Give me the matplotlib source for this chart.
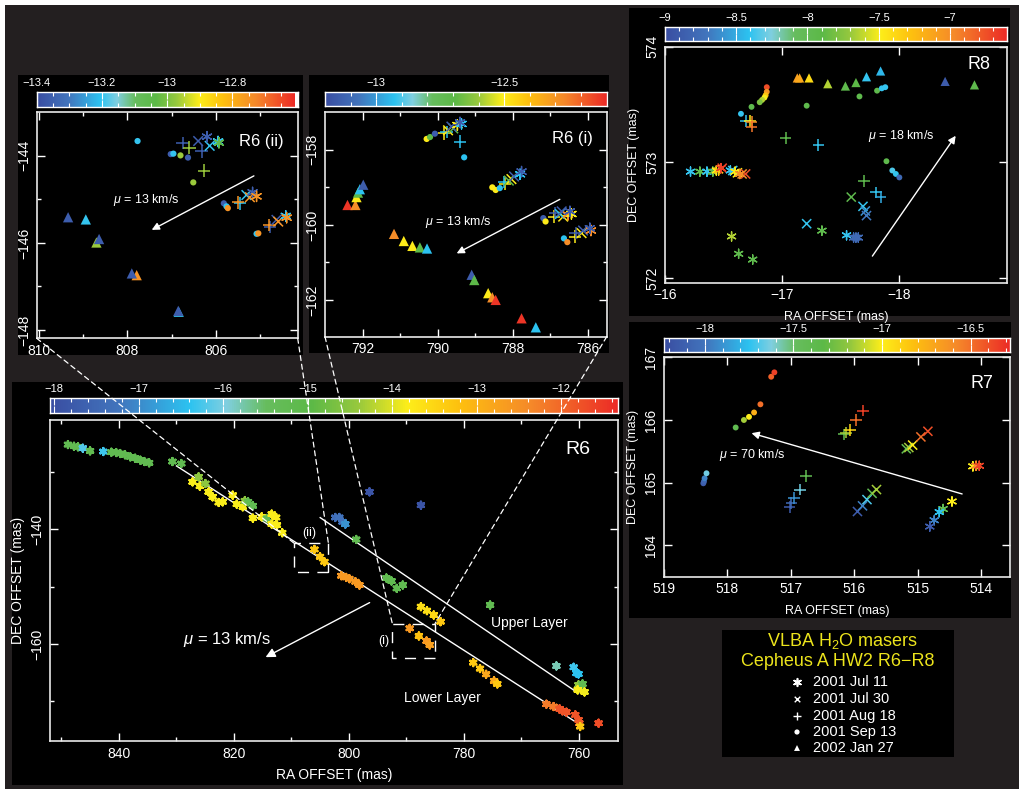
import matplotlib
matplotlib.use("Agg")
import matplotlib.pyplot as plt
import numpy as np
from matplotlib.colors import LinearSegmentedColormap
from matplotlib.patches import Rectangle, ConnectionPatch

plt.rcParams['font.family'] = ['Liberation Sans', 'DejaVu Sans']
plt.rcParams['mathtext.fontset'] = 'custom'
plt.rcParams['mathtext.rm'] = 'Liberation Sans'
plt.rcParams['mathtext.it'] = 'Liberation Sans:italic'
plt.rcParams['axes.unicode_minus'] = True

# ---------------------------------------------------------------- data
# R6 overview: all maser spots (RA offset, Dec offset in mas, V_LSR km/s)
r6_ra = [848.88, 847.83, 847.13, 846.29, 845.03, 842.73, 841.33, 840.49, 839.79, 838.95,
         838.04, 837.20, 836.29, 835.59, 834.76, 830.70, 829.16,
         827.20, 826.15, 825.94, 824.97, 824.41, 823.71, 822.66, 821.96, 820.21, 819.51,
         818.46, 818.11, 817.55, 816.71, 816.71, 815.17, 814.27, 813.43, 812.66, 813.43,
         812.52, 811.61,
         802.38, 801.68, 801.12, 800.63, 798.74, 796.43, 787.48,
         806.01, 805.03, 804.27, 801.33, 800.49, 799.93, 798.88, 798.18,
         793.50, 792.59, 791.68, 790.63, 775.45,
         787.48, 786.43, 785.24, 784.06, 789.44, 787.83, 786.50, 785.94,
         778.39, 777.20, 776.15, 774.76, 774.20,
         765.66, 764.41, 763.36, 762.87, 762.17, 760.63, 760.07, 759.93, 759.79, 756.57,
         763.92, 760.91, 760.42, 760.07, 760.07, 759.37, 760.21, 759.02]
r6_dec = [-125.28, -125.57, -125.68, -125.91, -126.38, -126.49, -126.61, -126.67, -126.84, -127.07,
          -127.42, -127.65, -128.00, -128.23, -128.46, -128.23, -128.58,
          -131.77, -130.90, -132.52, -132.06, -133.51, -134.38, -135.36, -135.25, -134.09, -135.65,
          -136.12, -135.07, -135.25, -135.94, -138.09, -137.86, -138.14, -137.39, -137.97, -139.13,
          -139.30, -140.64,
          -137.97, -137.97, -138.72, -139.13, -141.80, -133.51, -135.83,
          -143.54, -144.81, -145.68, -148.12, -148.41, -148.64, -149.16, -149.74,
          -148.52, -149.04, -150.32, -149.74, -153.22,
          -153.51, -154.20, -154.96, -156.12, -157.28, -158.61, -159.48, -160.17,
          -163.25, -164.29, -165.28, -166.43, -166.96,
          -170.49, -170.90, -171.30, -171.65, -171.88, -172.35, -173.22, -173.80, -174.38, -173.80,
          -163.83, -164.06, -165.10, -165.22, -167.13, -166.96, -168.00, -168.35]
r6_vlsr = [-15.2, -15.2, -15.2, -16.2, -15.2, -16.3, -15.2, -15.2, -15.2, -15.2,
           -15.2, -15.2, -15.2, -15.2, -15.2, -15.2, -15.2,
           -13.85, -14.5, -13.85, -14.5, -13.85, -13.85, -13.85, -13.85, -13.85, -13.85,
           -13.85, -14.5, -15.2, -15.2, -13.85, -13.85, -15.2, -13.85, -13.85, -13.85,
           -13.85, -13.85,
           -17.4, -17.3, -17.3, -16.9, -15.2, -17.9, -17.9,
           -13.3, -13.3, -13.3, -12.6, -12.6, -12.6, -12.6, -12.6,
           -15.2, -15.2, -15.2, -15.2, -15.2,
           -13.6, -13.6, -13.5, -13.3, -12.6, -13.2, -12.6, -12.7,
           -13.3, -13.3, -12.8, -12.8, -13.3,
           -12.2, -12.2, -11.8, -11.8, -11.8, -11.8, -11.8, -11.9, -13.3, -11.7,
           -15.8, -16.3, -16.4, -16.4, -14.5, -15.2, -13.85, -13.9]

# R6 (ii): per-epoch spots
r6ii_jul11_ra = [806.20, 805.95, 805.93, 805.17, 805.08, 804.42, 804.40]
r6ii_jul11_dec = [-143.56, -143.67, -143.70, -144.84, -144.93, -145.38, -145.42]
r6ii_jul11_v = [-13.36, -13.2, -13.05, -13.36, -12.75, -13.2, -12.75]
r6ii_jul30_ra = [806.40, 806.14, 805.31, 805.23, 804.63, 804.59]
r6ii_jul30_dec = [-143.66, -143.77, -144.90, -144.95, -145.47, -145.51]
r6ii_jul30_v = [-13.36, -13.2, -13.2, -12.75, -13.36, -12.75]
r6ii_aug18_ra = [806.75, 806.60, 806.32, 806.27, 805.46, 805.50, 804.77, 804.79]
r6ii_aug18_dec = [-143.71, -143.81, -143.90, -144.34, -145.09, -145.07, -145.63, -145.59]
r6ii_aug18_v = [-13.36, -12.97, -13.36, -12.97, -13.2, -12.75, -13.36, -12.75]
r6ii_sep13_ra = [807.77, 807.02, 806.96, 806.80, 806.63, 806.51, 805.82, 805.76, 805.73, 805.08, 805.04]
r6ii_sep13_dec = [-143.66, -143.96, -143.95, -143.99, -144.04, -144.61, -145.09, -145.16, -145.20, -145.79, -145.78]
r6ii_sep13_v = [-13.2, -13.36, -13.2, -12.97, -13.36, -12.97, -13.36, -13.2, -12.75, -13.2, -12.75]
r6ii_jan27_ra = [809.34, 808.94, 808.70, 808.64, 807.79, 807.90, 806.84, 806.85]
r6ii_jan27_dec = [-145.41, -145.46, -145.99, -145.91, -146.74, -146.70, -147.58, -147.56]
r6ii_jan27_v = [-13.36, -13.2, -12.97, -13.36, -12.75, -13.36, -13.2, -13.36]

# R6 (i): per-epoch spots
r6i_jul11_ra = [789.47, 789.36, 789.40, 787.80, 787.76, 786.52, 786.43, 786.47, 785.91, 785.94]
r6i_jul11_dec = [-157.34, -157.31, -157.27, -158.65, -158.58, -159.73, -159.71, -159.64, -160.15, -160.09]
r6i_jul11_v = [-12.5, -12.93, -13.15, -12.93, -13.15, -12.28, -12.5, -13.15, -12.28, -13.15]
r6i_jul30_ra = [789.72, 789.58, 789.63, 788.10, 788.03, 787.96, 786.65, 786.74, 786.69, 786.16, 786.12]
r6i_jul30_dec = [-157.48, -157.43, -157.38, -158.82, -158.78, -158.71, -159.78, -159.71, -159.64, -160.22, -160.15]
r6i_jul30_v = [-12.5, -12.7, -13.15, -12.7, -12.5, -13.15, -12.5, -12.93, -13.15, -12.5, -13.15]
r6i_aug18_ra = [789.82, 789.76, 789.40, 788.20, 788.22, 786.89, 786.87, 786.34, 786.32]
r6i_aug18_dec = [-157.56, -157.52, -157.78, -158.91, -158.85, -159.78, -159.69, -160.31, -160.22]
r6i_aug18_v = [-12.5, -12.93, -12.93, -12.5, -12.93, -12.5, -13.15, -12.5, -13.15]
r6i_sep13_ra = [790.29, 790.20, 790.07, 789.29, 788.54, 788.45, 788.34, 787.18, 787.12, 786.63, 786.54]
r6i_sep13_dec = [-157.71, -157.66, -157.57, -158.20, -159.00, -159.07, -159.02, -159.82, -159.91, -160.36, -160.46]
r6i_sep13_v = [-12.5, -12.7, -13.15, -12.93, -12.5, -12.5, -12.93, -13.15, -12.5, -12.93, -12.28]
r6i_jan27_ra = [792.40, 792.19, 792.16, 792.12, 792.07, 791.98, 791.16, 790.90, 790.67, 790.47, 790.28,
                789.09, 789.02, 788.65, 788.54, 788.45, 787.76, 787.38]
r6i_jan27_dec = [-159.47, -159.47, -159.26, -159.14, -159.05, -158.93, -160.24, -160.43, -160.56, -160.60, -160.63,
                 -161.33, -161.47, -161.82, -161.93, -162.00, -162.49, -162.73]
r6i_jan27_v = [-12.12, -12.28, -12.5, -12.7, -12.93, -13.15, -12.28, -12.5, -12.5, -12.7, -12.93,
               -13.15, -12.7, -12.5, -12.28, -12.12, -12.12, -12.93]

# R8: per-epoch spots
r8_jul11_ra = [-16.22, -16.30, -16.36, -16.41, -16.44, -16.46, -16.48, -16.56, -16.60, -16.64,
               -16.57, -16.63, -16.75, -17.34, -17.55, -17.61, -17.63, -17.65]
r8_jul11_dec = [572.92, 572.92, 572.92, 572.92, 572.93, 572.93, 572.95, 572.93, 572.92, 572.90,
                572.36, 572.21, 572.16, 572.41, 572.37, 572.35, 572.35, 572.35]
r8_jul11_v = [-8.4, -7.95, -8.4, -7.95, -7.5, -7.3, -6.7, -8.4, -7.5, -7.0,
              -7.65, -7.95, -7.95, -7.95, -8.4, -8.8, -8.8, -8.8]
r8_jul30_ra = [-16.49, -16.58, -16.62, -16.66, -16.69, -17.59, -17.69, -17.71, -17.72, -17.21]
r8_jul30_dec = [572.95, 572.93, 572.91, 572.90, 572.90, 572.70, 572.62, 572.58, 572.54, 572.47]
r8_jul30_v = [-6.7, -8.4, -7.5, -7.0, -6.75, -7.95, -8.4, -8.6, -8.7, -8.4]
r8_aug18_ra = [-16.69, -16.73, -16.74, -16.74, -17.03, -17.31, -17.70, -17.80, -17.84]
r8_aug18_dec = [573.36, 573.36, 573.35, 573.31, 573.21, 573.15, 572.84, 572.74, 572.70]
r8_aug18_v = [-8.4, -7.5, -7.0, -6.9, -7.95, -8.4, -7.95, -8.4, -8.5]
r8_sep13_ra = [-16.87, -16.87, -16.86, -16.85, -16.83, -16.81, -16.74, -16.65, -17.21, -17.66,
               -17.81, -17.85, -17.88, -17.89, -17.94, -17.97, -18.00]
r8_sep13_dec = [573.65, 573.61, 573.58, 573.56, 573.54, 573.52, 573.48, 573.42, 573.49, 573.57,
                573.62, 573.64, 573.65, 573.01, 572.93, 572.90, 572.87]
r8_sep13_v = [-6.75, -7.05, -7.3, -7.5, -7.65, -7.8, -7.95, -8.4, -7.95, -7.95,
              -7.95, -8.4, -8.4, -7.95, -8.35, -8.4, -8.8]
r8_jan27_ra = [-17.13, -17.15, -17.23, -17.39, -17.54, -17.63, -17.72, -17.84, -18.39, -18.64]
r8_jan27_dec = [573.73, 573.73, 573.73, 573.68, 573.66, 573.69, 573.74, 573.79, 573.70, 573.67]
r8_jan27_v = [-7.1, -7.15, -7.4, -7.65, -7.95, -7.9, -8.4, -8.45, -8.9, -7.95]

# R7: per-epoch spots
r7_jul11_ra = [514.13, 514.08, 514.03, 514.46, 514.60, 514.66, 514.74, 514.81]
r7_jul11_dec = [165.26, 165.27, 165.27, 164.70, 164.58, 164.53, 164.40, 164.30]
r7_jul11_v = [-17.0, -16.6, -16.35, -17.0, -17.4, -17.75, -17.95, -18.15]
r7_jul30_ra = [515.18, 515.14, 515.08, 514.95, 514.84, 515.95, 515.87, 515.80, 515.72, 515.65]
r7_jul30_dec = [165.54, 165.56, 165.60, 165.73, 165.82, 164.54, 164.63, 164.73, 164.83, 164.89]
r7_jul30_v = [-17.4, -17.15, -17.0, -16.5, -16.4, -18.15, -17.95, -17.7, -17.4, -17.15]
r7_aug18_ra = [516.16, 516.13, 516.07, 515.97, 515.86, 517.02, 516.99, 516.95, 516.86, 516.76]
r7_aug18_dec = [165.77, 165.80, 165.84, 166.00, 166.15, 164.61, 164.67, 164.75, 164.89, 165.11]
r7_aug18_v = [-17.4, -17.15, -16.9, -16.5, -16.35, -18.15, -18.05, -17.9, -17.65, -17.4]
r7_sep13_ra = [517.87, 517.74, 517.66, 517.58, 517.48, 517.31, 517.26, 518.38, 518.37, 518.36, 518.33]
r7_sep13_dec = [165.88, 166.00, 166.05, 166.12, 166.25, 166.69, 166.76, 164.99, 165.02, 165.07, 165.15]
r7_sep13_v = [-17.4, -17.15, -17.0, -16.75, -16.5, -16.45, -16.35, -18.15, -18.1, -17.95, -17.65]

# colour-bar ranges (km/s)
vrange_r6 = (-18.05, -11.33)
vrange_r6ii = (-13.40, -12.61)
vrange_r6i = (-13.20, -12.10)
vrange_r8 = (-9.00, -6.61)
vrange_r7 = (-18.23, -16.28)

epoch_labels = ['2001 Jul 11', '2001 Jul 30', '2001 Aug 18', '2001 Sep 13', '2002 Jan 27']

# ---------------------------------------------------------------- style
W, H = 1019, 789
BG = '#231f20'
cmap = LinearSegmentedColormap.from_list('vlsr', [
    (0.00, '#3a4ea2'), (0.12, '#4275bd'), (0.245, '#2cc3f1'), (0.31, '#80cfe0'),
    (0.38, '#67bd5e'), (0.46, '#5cb947'), (0.54, '#95c83e'), (0.63, '#fdee1a'),
    (0.72, '#fec10f'), (0.85, '#f5882a'), (1.00, '#ec2b26')])

fig = plt.figure(figsize=(W / 100, H / 100), dpi=100, facecolor=BG)


def rect(x0, y0, x1, y1):
    return [x0 / W, 1 - y1 / H, (x1 - x0) / W, (y1 - y0) / H]


def fig_rect(x0, y0, x1, y1, color, z=0):
    fig.add_artist(Rectangle((x0 / W, 1 - y1 / H), (x1 - x0) / W, (y1 - y0) / H,
                             transform=fig.transFigure, facecolor=color,
                             edgecolor='none', zorder=z))


# page frame and black panels
fig_rect(0, 0, W, 5, 'white')
fig_rect(0, 0, 5, H, 'white')
fig_rect(18, 75, 303, 355, 'black')
fig_rect(309, 75, 609, 353, 'black')
fig_rect(12, 382, 623, 785, 'black')
fig_rect(629, 8, 1010, 316, 'black')
fig_rect(629, 322, 1011, 618, 'black')


def style_axes(ax, xmaj, xmin, ymaj, ymin, fs=10, maj=6, mnr=3):
    ax.set_facecolor('black')
    for s in ax.spines.values():
        s.set_color('#e8e8e8')
        s.set_linewidth(1.2)
    ax.set_xticks(xmaj)
    ax.set_yticks(ymaj)
    if xmin is not None:
        ax.set_xticks(xmin, minor=True)
    if ymin is not None:
        ax.set_yticks(ymin, minor=True)
    ax.tick_params(which='both', direction='in', colors='white', top=True, right=True,
                   labelsize=fs, pad=4)
    ax.tick_params(which='major', length=maj, width=1)
    ax.tick_params(which='minor', length=mnr, width=1)
    for lab in ax.get_yticklabels():
        lab.set_rotation(90)
        lab.set_va('center')


def colourbar(r, vr, maj, labels, mnr, fs=8):
    cax = fig.add_axes(rect(*r))
    cax.imshow(np.linspace(vr[0], vr[1], 512)[None, :], extent=[vr[0], vr[1], 0, 1],
               aspect='auto', cmap=cmap, vmin=vr[0], vmax=vr[1])
    cax.set_xlim(*vr)
    cax.set_yticks([])
    cax.set_xticks(maj, labels)
    cax.set_xticks(mnr, minor=True)
    cax.tick_params(which='both', direction='in', colors='white', top=True, bottom=True,
                    labeltop=True, labelbottom=False, labelsize=fs, pad=3, width=0.8)
    cax.tick_params(which='major', length=5)
    cax.tick_params(which='minor', length=3)
    for s in cax.spines.values():
        s.set_color('white')
        s.set_linewidth(1)
    return cax


def arrow(ax, start, end, lw=1.0, ms=12):
    ax.annotate('', xy=end, xytext=start,
                arrowprops=dict(arrowstyle='-|>', color='white', lw=lw,
                                mutation_scale=ms, shrinkA=0, shrinkB=0))


def epoch_scatter(ax, ra, dec, v, vr, kind, scale=1.0):
    kw = dict(c=v, cmap=cmap, vmin=vr[0], vmax=vr[1], zorder=3)
    if kind == 'star':
        ax.scatter(ra, dec, marker=(6, 2, 0), s=55 * scale, linewidths=1.0, **kw)
    elif kind == 'x':
        ax.scatter(ra, dec, marker='x', s=48 * scale, linewidths=1.1, **kw)
    elif kind == 'plus':
        ax.scatter(ra, dec, marker='+', s=80 * scale, linewidths=1.1, **kw)
    elif kind == 'dot':
        ax.scatter(ra, dec, marker='o', s=20 * scale, edgecolors='none', **kw)
    else:
        ax.scatter(ra, dec, marker='^', s=55 * scale, edgecolors='none', **kw)


# ---------------------------------------------------------------- R6 overview
ax6 = fig.add_axes(rect(50, 420, 618, 741))
ax6.set_xlim(852.0, 753.2)
ax6.set_ylim(-176.9, -121.0)
style_axes(ax6, [840, 820, 800, 780, 760], np.arange(850, 750, -20),
           [-140, -160], [-130, -150, -170], fs=10)
ax6.set_xticklabels(['840', '820', '800', '780', '760'])
ax6.set_xlabel('RA OFFSET (mas)', color='white', fontsize=10, labelpad=5)
ax6.set_ylabel('DEC OFFSET (mas)', color='white', fontsize=10, labelpad=4)
ax6.scatter(r6_ra, r6_dec, c=r6_vlsr, cmap=cmap, vmin=vrange_r6[0], vmax=vrange_r6[1],
            marker=(6, 2, 0), s=24, linewidths=1.8, zorder=3)
# layer fits
ax6.plot([830.0, 760.07], [-129.0, -173.9], color='white', lw=1.0, zorder=2)
ax6.plot([805.0, 760.07], [-138.0, -168.6], color='white', lw=1.0, zorder=2)
# zoom boxes
ax6.add_patch(Rectangle((803.57, -147.54), 5.93, 5.05, fill=False, edgecolor='white',
                        lw=1.0, linestyle=(0, (8, 6)), zorder=2))
ax6.add_patch(Rectangle((785.03, -162.49), 7.42, 6.03, fill=False, edgecolor='white',
                        lw=1.0, linestyle=(0, (8, 6)), zorder=2))
ax6.text(806.9, -140.6, '(ii)', color='white', fontsize=9, ha='center', va='center')
ax6.text(794.0, -159.4, '(i)', color='white', fontsize=9, ha='center', va='center')
arrow(ax6, (796.4, -152.8), (814.5, -162.3), lw=1.0, ms=14)
ax6.text(821.3, -159.2, r'$\mu$ = 13 km/s', color='white', fontsize=12, ha='center', va='center')
ax6.text(768.6, -156.4, 'Upper Layer', color='white', fontsize=10, ha='center', va='center')
ax6.text(783.8, -169.4, 'Lower Layer', color='white', fontsize=10, ha='center', va='center')
ax6.text(760.1, -126.1, 'R6', color='white', fontsize=14, ha='center', va='center')
colourbar((50, 398, 618, 413), vrange_r6, [-18, -17, -16, -15, -14, -13, -12],
          ['−18', '−17', '−16', '−15', '−14', '−13', '−12'],
          np.round(np.arange(-18.0, -11.3, 0.2), 2), fs=8)

# ---------------------------------------------------------------- R6 (ii)
axii = fig.add_axes(rect(36.7, 112.3, 297.7, 338.3))
axii.set_xlim(810.05, 804.15)
axii.set_ylim(-148.19, -143.0)
style_axes(axii, [810, 808, 806], [809, 807, 805], [-144, -146, -148], [-145, -147], fs=10)
epoch_scatter(axii, r6ii_jan27_ra, r6ii_jan27_dec, r6ii_jan27_v, vrange_r6ii, 'tri')
epoch_scatter(axii, r6ii_sep13_ra, r6ii_sep13_dec, r6ii_sep13_v, vrange_r6ii, 'dot')
epoch_scatter(axii, r6ii_aug18_ra, r6ii_aug18_dec, r6ii_aug18_v, vrange_r6ii, 'plus')
epoch_scatter(axii, r6ii_jul30_ra, r6ii_jul30_dec, r6ii_jul30_v, vrange_r6ii, 'x')
epoch_scatter(axii, r6ii_jul11_ra, r6ii_jul11_dec, r6ii_jul11_v, vrange_r6ii, 'star')
arrow(axii, (805.14, -144.46), (807.45, -145.70), lw=1.0, ms=11)
axii.text(807.57, -145.01, r'$\mu$ = 13 km/s', color='white', fontsize=9, ha='center', va='center')
axii.text(804.97, -143.66, 'R6 (ii)', color='white', fontsize=12, ha='center', va='center')
colourbar((36.7, 91.7, 297.7, 106.7), vrange_r6ii, [-13.4, -13.2, -13.0, -12.8],
          ['−13.4', '−13.2', '−13', '−12.8'],
          np.round(np.arange(-13.4, -12.6, 0.05), 2), fs=8)

# ---------------------------------------------------------------- R6 (i)
axi = fig.add_axes(rect(325, 112.3, 606.7, 336.7))
axi.set_xlim(793.0, 785.49)
axi.set_ylim(-162.98, -157.0)
style_axes(axi, [792, 790, 788, 786], [791, 789, 787], [-158, -160, -162],
           [-159, -161], fs=10)
epoch_scatter(axi, r6i_jan27_ra, r6i_jan27_dec, r6i_jan27_v, vrange_r6i, 'tri')
epoch_scatter(axi, r6i_sep13_ra, r6i_sep13_dec, r6i_sep13_v, vrange_r6i, 'dot')
epoch_scatter(axi, r6i_aug18_ra, r6i_aug18_dec, r6i_aug18_v, vrange_r6i, 'plus')
epoch_scatter(axi, r6i_jul30_ra, r6i_jul30_dec, r6i_jul30_v, vrange_r6i, 'x')
epoch_scatter(axi, r6i_jul11_ra, r6i_jul11_dec, r6i_jul11_v, vrange_r6i, 'star')
arrow(axi, (786.74, -159.32), (789.49, -160.76), lw=1.0, ms=11)
axi.text(789.45, -159.93, r'$\mu$ = 13 km/s', color='white', fontsize=9, ha='center', va='center')
axi.text(786.41, -157.71, 'R6 (i)', color='white', fontsize=12, ha='center', va='center')
colourbar((325, 91.7, 606.7, 106.0), vrange_r6i, [-13.0, -12.5], ['−13', '−12.5'],
          np.round(np.arange(-13.2, -12.1, 0.1), 2), fs=8)

# ---------------------------------------------------------------- R8
ax8 = fig.add_axes(rect(664.7, 46.7, 1007.3, 282.7))
ax8.set_xlim(-16.0, -18.92)
ax8.set_ylim(571.96, 574.0)
style_axes(ax8, [-16, -17, -18], None, [572, 573, 574], None, fs=10)
ax8.set_xlabel('RA OFFSET (mas)', color='white', fontsize=9, labelpad=6)
ax8.set_ylabel('DEC OFFSET (mas)', color='white', fontsize=9, labelpad=4)
epoch_scatter(ax8, r8_jan27_ra, r8_jan27_dec, r8_jan27_v, vrange_r8, 'tri', 0.8)
epoch_scatter(ax8, r8_sep13_ra, r8_sep13_dec, r8_sep13_v, vrange_r8, 'dot', 0.9)
epoch_scatter(ax8, r8_aug18_ra, r8_aug18_dec, r8_aug18_v, vrange_r8, 'plus', 0.9)
epoch_scatter(ax8, r8_jul30_ra, r8_jul30_dec, r8_jul30_v, vrange_r8, 'x', 0.9)
epoch_scatter(ax8, r8_jul11_ra, r8_jul11_dec, r8_jul11_v, vrange_r8, 'star', 0.8)
arrow(ax8, (-17.77, 572.19), (-18.48, 573.23), lw=1.0, ms=11)
ax8.text(-18.02, 573.23, r'$\mu$ = 18 km/s', color='white', fontsize=9, ha='center', va='center')
ax8.text(-18.68, 573.85, 'R8', color='white', fontsize=13, ha='center', va='center')
colourbar((664.7, 26.7, 1007.3, 41.0), vrange_r8, [-9.0, -8.5, -8.0, -7.5, -7.0],
          ['−9', '−8.5', '−8', '−7.5', '−7'],
          np.round(np.arange(-9.0, -6.6, 0.1), 2), fs=8)

# ---------------------------------------------------------------- R7
ax7 = fig.add_axes(rect(664, 357.3, 1009.7, 576.7))
ax7.set_xlim(519.0, 513.55)
ax7.set_ylim(163.5, 167.0)
style_axes(ax7, [519, 518, 517, 516, 515, 514], None, [164, 165, 166, 167], None, fs=10)
ax7.set_xlabel('RA OFFSET (mas)', color='white', fontsize=9, labelpad=6)
ax7.set_ylabel('DEC OFFSET (mas)', color='white', fontsize=9, labelpad=4)
epoch_scatter(ax7, r7_sep13_ra, r7_sep13_dec, r7_sep13_v, vrange_r7, 'dot', 0.9)
epoch_scatter(ax7, r7_aug18_ra, r7_aug18_dec, r7_aug18_v, vrange_r7, 'plus', 0.9)
epoch_scatter(ax7, r7_jul30_ra, r7_jul30_dec, r7_jul30_v, vrange_r7, 'x', 0.9)
epoch_scatter(ax7, r7_jul11_ra, r7_jul11_dec, r7_jul11_v, vrange_r7, 'star', 0.8)
arrow(ax7, (514.30, 164.82), (517.62, 165.79), lw=1.0, ms=11)
ax7.text(517.60, 165.44, r'$\mu$ = 70 km/s', color='white', fontsize=9, ha='center', va='center')
ax7.text(513.99, 166.59, 'R7', color='white', fontsize=13, ha='center', va='center')
colourbar((664, 338.3, 1009.7, 351.7), vrange_r7, [-18.0, -17.5, -17.0, -16.5],
          ['−18', '−17.5', '−17', '−16.5'],
          np.round(np.arange(-18.2, -16.28, 0.1), 2), fs=8)

# ---------------------------------------------------------------- links between zoom boxes and insets
links = [((0, 0), axii, (809.50, -142.49)),
         ((1, 0), axii, (803.57, -142.49)),
         ((0, 0), axi, (792.45, -156.46)),
         ((1, 0), axi, (785.03, -156.46))]
for corner, src, target in links:
    cp = ConnectionPatch(xyA=corner, coordsA=src.transAxes, xyB=target, coordsB=ax6.transData,
                         color='white', lw=0.9, linestyle=(0, (4, 3)), zorder=10)
    fig.add_artist(cp)

# ---------------------------------------------------------------- key
axk = fig.add_axes(rect(722, 630, 954, 757))
axk.set_facecolor('black')
axk.set_xlim(722, 954)
axk.set_ylim(757, 630)
axk.set_xticks([])
axk.set_yticks([])
for s in axk.spines.values():
    s.set_visible(False)
yellow = '#ece41c'
axk.text(843, 641, r'VLBA H$_2$O masers', color=yellow, fontsize=13, ha='center', va='center')
axk.text(838, 661, 'Cepheus A HW2 R6−R8', color=yellow, fontsize=13, ha='center', va='center')
key_y = [682, 699, 716, 732, 748]
key_markers = [((6, 2, 0), 30, 1.2), ('x', 16, 1.0), ('+', 28, 1.0), ('o', 14, 0), ('^', 18, 0)]
for yy, lab, (mk, sz, lw) in zip(key_y, epoch_labels, key_markers):
    if lw:
        axk.scatter([797], [yy], marker=mk, s=sz, c='white', linewidths=lw)
    else:
        axk.scatter([797], [yy], marker=mk, s=sz, c='white', edgecolors='none')
    axk.text(813, yy, lab, color='white', fontsize=10.5, ha='left', va='center')

fig.savefig('out.png', dpi=100, facecolor=BG)
